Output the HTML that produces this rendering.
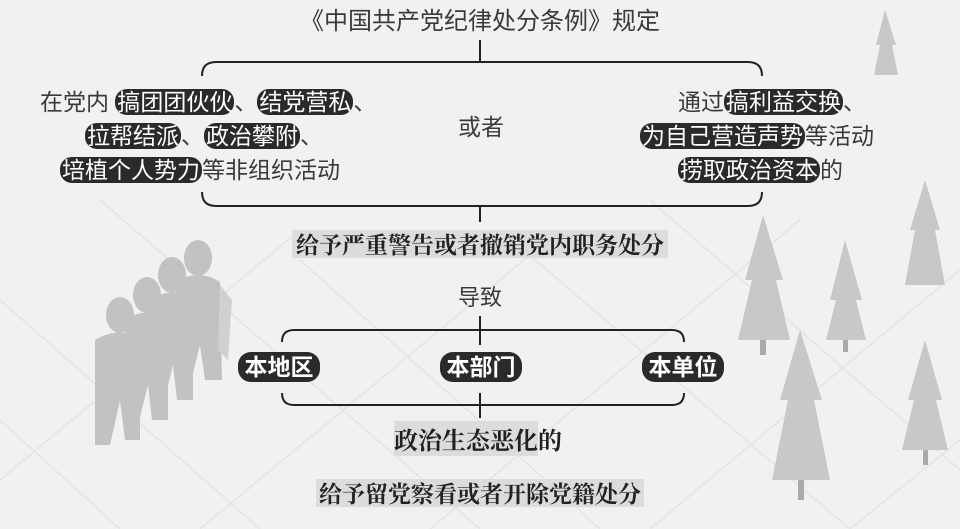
<!DOCTYPE html>
<html><head><meta charset="utf-8"><style>
body{margin:0;width:960px;height:529px;overflow:hidden;background:#f1f1f1;position:relative;font-family:"Liberation Sans","Noto Sans CJK SC",sans-serif;color:#3a3a3a}
.t{position:absolute;white-space:nowrap;font-size:23px;line-height:28px}
.p{background:#2a2a2a;color:#fff;border-radius:12px;padding:0 2px}
.b{font-family:"Noto Serif CJK SC",serif;font-weight:bold;color:#222}
.h{background:#dcdcdc}
.pill{position:absolute;background:#2a2a2a;color:#fff;border-radius:13px;font-size:23px;line-height:30px;height:30px;text-align:center;font-weight:bold}
</style></head><body>
<svg width="960" height="529" style="position:absolute;left:0;top:0">
<g stroke="#e4e4e4" stroke-width="1.5" fill="none">
<path d="M0 300 L260 529 M100 200 L480 529 M300 260 L600 529 M500 230 L850 529 M650 200 L960 470 M0 420 L120 529"/>
<path d="M0 480 L300 230 M200 529 L560 230 M430 529 L800 220 M650 529 L960 270 M850 529 L960 440"/>
</g>
<g fill="#c2c2c2">
<ellipse cx="120" cy="315" rx="14" ry="18"/><path d="M95 340 Q120 325 140 340 L140 440 L125 440 L120 400 L110 445 L95 445 Z"/>
<ellipse cx="147" cy="295" rx="14" ry="18"/><path d="M125 320 Q147 305 168 320 L168 420 L152 420 L148 385 L138 425 L125 425 Z"/>
<ellipse cx="172" cy="275" rx="14" ry="18"/><path d="M150 300 Q172 285 193 300 L193 400 L177 400 L173 365 L163 405 L150 405 Z"/>
<ellipse cx="198" cy="258" rx="14" ry="18"/><path d="M176 282 Q198 268 220 282 L222 380 L205 380 L200 345 L190 385 L176 385 Z"/>
</g>
<g fill="#d0d0d0"><path d="M220 285 L232 300 L228 360 L218 350 Z"/></g>
<g fill="#c8c8c8">
<path d="M763 215 L745 280 L752 280 L738 340 L790 340 L776 280 L783 280 Z"/>
<path d="M845 240 L830 300 L836 300 L826 340 L866 340 L856 300 L862 300 Z"/>
<path d="M925 180 L910 230 L915 230 L905 285 L945 285 L935 230 L940 230 Z"/>
<path d="M800 330 L780 400 L788 400 L772 480 L830 480 L814 400 L822 400 Z"/>
<path d="M925 340 L908 400 L914 400 L902 450 L948 450 L936 400 L942 400 Z"/>
<path d="M885 10 L876 45 L880 45 L874 75 L898 75 L892 45 L896 45 Z"/>
</g>
<g fill="#aaa"><rect x="760" y="340" width="6" height="15"/><rect x="798" y="480" width="6" height="20"/><rect x="923" y="450" width="5" height="15"/><rect x="843" y="340" width="5" height="12"/></g>
<g stroke="#222" stroke-width="2" fill="none">
<path d="M480 40 V62 M202 76 Q202 62 216 62 H748 Q762 62 762 76"/>
<path d="M202 192 Q202 206 216 206 H748 Q762 206 762 192 M480 206 V222"/>
<path d="M480 316 V345 M282 342 Q282 330 294 330 H672 Q684 330 684 342"/>
<path d="M282 393 Q282 405 294 405 H672 Q684 405 684 393 M480 393 V418"/>
</g>
</svg>
<div class="t" style="left:300px;top:8px;font-size:24px">《中国共产党纪律处分条例》规定</div>
<div class="t" style="left:40px;top:88px">在党内 <span class="p">搞团团伙伙</span>、<span class="p">结党营私</span>、</div>
<div class="t" style="left:85px;top:122px"><span class="p">拉帮结派</span>、<span class="p">政治攀附</span>、</div>
<div class="t" style="left:60px;top:156px"><span class="p">培植个人势力</span>等非组织活动</div>
<div class="t" style="left:458px;top:113px">或者</div>
<div class="t" style="left:678px;top:88px">通过<span class="p">搞利益交换</span>、</div>
<div class="t" style="left:640px;top:122px"><span class="p">为自己营造声势</span>等活动</div>
<div class="t" style="left:678px;top:156px"><span class="p">捞取政治资本</span>的</div>
<div class="t b h" style="left:292px;top:230px;font-size:23px;padding:0 4px">给予严重警告或者撤销党内职务处分</div>
<div class="t" style="left:458px;top:284px;font-size:22px">导致</div>
<div class="pill" style="left:238px;top:352px;width:82px">本地区</div>
<div class="pill" style="left:440px;top:352px;width:82px">本部门</div>
<div class="pill" style="left:642px;top:352px;width:82px">本单位</div>
<div class="t b" style="left:394px;top:425px;font-size:24px"><span class="h">政治生态恶化</span>的</div>
<div class="t b h" style="left:316px;top:479px;font-size:23px;padding:0 3px">给予留党察看或者开除党籍处分</div>
</body></html>
